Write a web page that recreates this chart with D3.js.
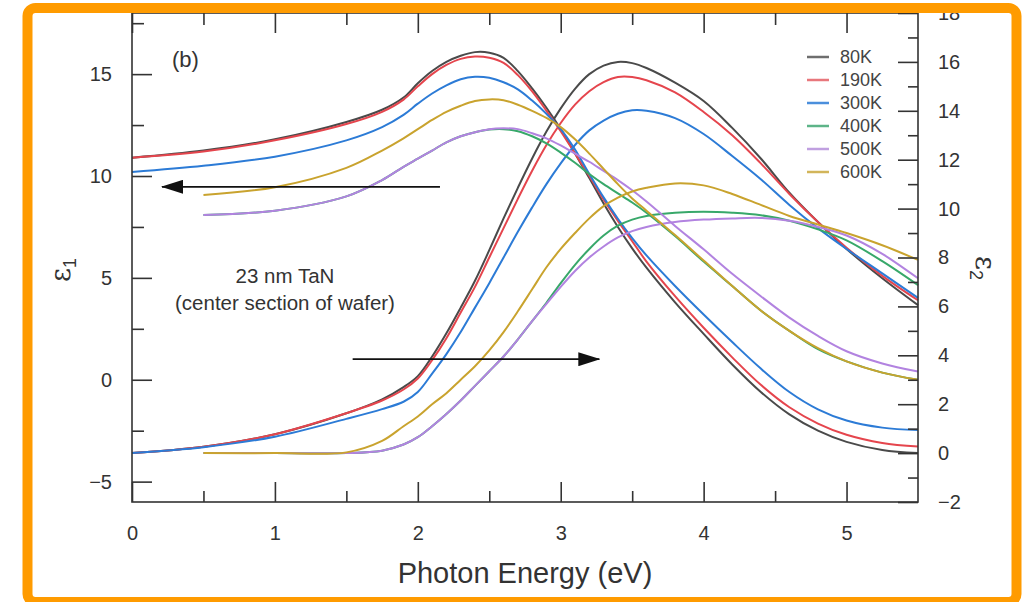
<!DOCTYPE html>
<html><head><meta charset="utf-8">
<script src="https://cdn.jsdelivr.net/npm/d3@7"></script>
<style>
html,body{margin:0;padding:0;background:#fff;}
svg{display:block;font-family:"Liberation Sans",Arial,Helvetica,sans-serif;}
</style></head>
<body>
<svg id="chart" width="1025" height="602"></svg>
<script>
// ---------- data ----------
const temps = ["80K","190K","300K","400K","500K","600K"];
const energyLow  = [0, 0.5, 1.0, 1.5, 1.75, 1.9, 2.0, 2.1, 2.2, 2.3, 2.4, 2.5, 2.6, 2.7, 2.8, 2.9, 3.0, 3.1, 3.2, 3.3, 3.4, 3.5, 3.6, 3.8, 4.0, 4.2, 4.4, 4.6, 4.8, 5.0, 5.25, 5.5];
const energyHigh = [0.5, 1.0, 1.5, 1.75, 1.9, 2.0, 2.1, 2.2, 2.3, 2.4, 2.5, 2.6, 2.7, 2.8, 2.9, 3.0, 3.1, 3.2, 3.3, 3.4, 3.5, 3.6, 3.8, 4.0, 4.2, 4.4, 4.6, 4.8, 5.0, 5.25, 5.5];

const eps1_80K  = [10.9, 11.25, 11.8, 12.65, 13.25, 13.85, 14.55, 15.15, 15.6, 15.9, 16.08, 16.05, 15.8, 15.15, 14.3, 13.35, 12.3, 11.1, 9.9, 8.65, 7.5, 6.45, 5.5, 3.8, 2.25, 0.75, -0.6, -1.7, -2.5, -3.05, -3.45, -3.6];
const eps1_190K = [10.9, 11.2, 11.75, 12.55, 13.15, 13.75, 14.4, 15.0, 15.45, 15.75, 15.86, 15.8, 15.55, 14.95, 14.15, 13.2, 12.2, 11.1, 10.0, 8.85, 7.8, 6.8, 5.8, 4.1, 2.55, 1.1, -0.25, -1.35, -2.15, -2.7, -3.1, -3.28];
const eps1_300K = [10.2, 10.5, 10.95, 11.75, 12.4, 13.0, 13.55, 14.05, 14.45, 14.75, 14.87, 14.82, 14.6, 14.25, 13.7, 13.05, 12.3, 11.3, 10.1, 8.95, 7.9, 6.95, 6.1, 4.6, 3.2, 1.85, 0.55, -0.6, -1.45, -2.0, -2.35, -2.47];
const eps1_400K = [8.09, 8.3, 9.0, 9.8, 10.45, 10.85, 11.25, 11.65, 11.95, 12.15, 12.28, 12.3, 12.2, 11.95, 11.6, 11.15, 10.65, 10.1, 9.6, 9.15, 8.7, 8.2, 7.05, 5.8, 4.6, 3.4, 2.4, 1.5, 0.9, 0.35, 0.0];
const eps1_500K = [8.09, 8.3, 9.0, 9.8, 10.45, 10.85, 11.25, 11.65, 11.95, 12.15, 12.3, 12.34, 12.3, 12.1, 11.85, 11.5, 11.1, 10.7, 10.25, 9.8, 9.3, 8.75, 7.55, 6.4, 5.2, 4.1, 3.05, 2.15, 1.4, 0.8, 0.4];
const eps1_600K = [9.07, 9.45, 10.4, 11.25, 11.85, 12.3, 12.75, 13.15, 13.45, 13.68, 13.76, 13.72, 13.5, 13.2, 12.85, 12.4, 11.8, 11.1, 10.35, 9.6, 8.9, 8.3, 7.1, 5.85, 4.6, 3.4, 2.4, 1.55, 0.9, 0.35, 0.0];

const eps2_80K  = [0.0, 0.26, 0.77, 1.63, 2.2, 2.7, 3.15, 3.95, 4.9, 5.95, 7.05, 8.3, 9.6, 10.85, 12.05, 13.15, 14.1, 14.9, 15.5, 15.85, 16.0, 15.95, 15.75, 15.15, 14.4, 13.3, 12.05, 10.65, 9.45, 8.35, 7.15, 6.05];
const eps2_190K = [0.0, 0.26, 0.77, 1.63, 2.15, 2.6, 3.05, 3.8, 4.7, 5.75, 6.8, 8.0, 9.2, 10.4, 11.55, 12.6, 13.5, 14.25, 14.8, 15.17, 15.38, 15.38, 15.25, 14.75, 13.95, 13.0, 11.85, 10.6, 9.45, 8.4, 7.25, 6.25];
const eps2_300K = [0.0, 0.24, 0.67, 1.4, 1.8, 2.1, 2.5, 3.25, 4.05, 4.95, 5.95, 6.95, 8.0, 9.05, 10.05, 11.0, 11.85, 12.6, 13.2, 13.6, 13.88, 14.02, 14.0, 13.7, 13.05, 12.15, 11.2, 10.15, 9.2, 8.35, 7.35, 6.35];
const eps2_400K = [0.0, 0.0, 0.0, 0.1, 0.35, 0.65, 1.1, 1.6, 2.15, 2.75, 3.35, 3.95, 4.65, 5.4, 6.15, 6.95, 7.7, 8.35, 8.9, 9.3, 9.55, 9.7, 9.83, 9.87, 9.83, 9.73, 9.5, 9.15, 8.7, 7.85, 6.87];
const eps2_500K = [0.0, 0.0, 0.0, 0.1, 0.35, 0.65, 1.1, 1.6, 2.15, 2.75, 3.35, 3.95, 4.65, 5.4, 6.1, 6.8, 7.45, 8.0, 8.45, 8.82, 9.08, 9.25, 9.45, 9.55, 9.6, 9.62, 9.5, 9.25, 8.9, 8.15, 7.15];
const eps2_600K = [0.0, 0.0, 0.03, 0.5, 1.1, 1.5, 2.0, 2.45, 3.0, 3.55, 4.2, 4.95, 5.8, 6.7, 7.6, 8.35, 9.0, 9.6, 10.1, 10.45, 10.7, 10.85, 11.03, 10.95, 10.6, 10.15, 9.7, 9.35, 9.0, 8.5, 7.9];

const xTicks = [0, 1, 2, 3, 4, 5];
const xMinor = [0.5, 1.5, 2.5, 3.5, 4.5];
const yLeftTicks = [-5, 0, 5, 10, 15];
const yLeftMinor = [-2.5, 2.5, 7.5, 12.5, 17.5];
const yRightTicks = [-2, 0, 2, 4, 6, 8, 10, 12, 14, 16, 18];
const yRightMinor = [-1, 1, 3, 5, 7, 9, 11, 13, 15, 17];

// arrows (data coordinates): left arrow on eps1 scale, right arrow on eps2 scale
const arrowLeft  = {from: [2.155, 9.47], to: [0.21, 9.47]};
const arrowRight = {from: [1.544, 3.84], to: [3.27, 3.84]};

// ---------- drawing ----------
const colors = {"80K":"#4a4a4a","190K":"#e5454d","300K":"#2c7bd6","400K":"#38a86a","500K":"#b283e0","600K":"#c9a32e"};
const legendColors = {"80K":"#6e6e6e","190K":"#e8777c","300K":"#4b8fdc","400K":"#5db488","500K":"#c0a0e0","600K":"#d2b55a"};

const svg = d3.select("#chart");
const L = 132, R = 918, T = 13, B = 502;
const x = d3.scaleLinear().domain([0, 5.5]).range([L, R]);
const yL = d3.scaleLinear().domain([-6, 18]).range([B, T]);
const yR = d3.scaleLinear().domain([-2, 18]).range([B, T]);

svg.append("rect").attr("x",0).attr("y",0).attr("width",1025).attr("height",602).attr("fill","#fff");

const eps1 = {"80K":eps1_80K,"190K":eps1_190K,"300K":eps1_300K,"400K":eps1_400K,"500K":eps1_500K,"600K":eps1_600K};
const eps2 = {"80K":eps2_80K,"190K":eps2_190K,"300K":eps2_300K,"400K":eps2_400K,"500K":eps2_500K,"600K":eps2_600K};
const energyOf = t => (t==="80K"||t==="190K"||t==="300K") ? energyLow : energyHigh;

const lineL = d3.line().x(d=>x(d[0])).y(d=>yL(d[1])).curve(d3.curveCatmullRom.alpha(0.5));
const lineR = d3.line().x(d=>x(d[0])).y(d=>yR(d[1])).curve(d3.curveCatmullRom.alpha(0.5));

const g = svg.append("g");
temps.forEach(t => {
  const E = energyOf(t);
  g.append("path").attr("d", lineL(E.map((e,i)=>[e, eps1[t][i]])))
    .attr("fill","none").attr("stroke",colors[t]).attr("stroke-width",2);
  g.append("path").attr("d", lineR(E.map((e,i)=>[e, eps2[t][i]])))
    .attr("fill","none").attr("stroke",colors[t]).attr("stroke-width",2);
});

// axes
const axisColor = "#333";
const fs = 20;
function styleAxis(sel){
  sel.selectAll(".domain").remove();
  sel.selectAll("line").attr("stroke",axisColor).attr("stroke-width",1.6);
  sel.selectAll("text").attr("fill","#333").attr("font-size",fs).attr("font-family","'Liberation Sans',Arial,sans-serif");
}
const fmt = d => (d<0 ? "\u2212"+Math.abs(d) : String(d));

svg.append("g").attr("transform",`translate(0,${B})`)
  .call(d3.axisBottom(x).tickValues(xTicks).tickSize(-20).tickPadding(24).tickFormat(fmt)).call(styleAxis);
svg.append("g").attr("transform",`translate(0,${B})`)
  .call(d3.axisBottom(x).tickValues(xMinor).tickSize(-11).tickFormat("")).call(styleAxis);
svg.append("g").attr("transform",`translate(0,${T})`)
  .call(d3.axisTop(x).tickValues(xTicks).tickSize(-20).tickFormat("")).call(styleAxis);
svg.append("g").attr("transform",`translate(0,${T})`)
  .call(d3.axisTop(x).tickValues(xMinor).tickSize(-12).tickFormat("")).call(styleAxis);

svg.append("g").attr("transform",`translate(${L},0)`)
  .call(d3.axisLeft(yL).tickValues(yLeftTicks).tickSize(-20).tickPadding(20).tickFormat(fmt)).call(styleAxis);
svg.append("g").attr("transform",`translate(${L},0)`)
  .call(d3.axisLeft(yL).tickValues(yLeftMinor).tickSize(-12).tickFormat("")).call(styleAxis);

svg.append("g").attr("transform",`translate(${R},0)`)
  .call(d3.axisRight(yR).tickValues(yRightTicks).tickSize(-20).tickPadding(20).tickFormat(fmt)).call(styleAxis);
svg.append("g").attr("transform",`translate(${R},0)`)
  .call(d3.axisRight(yR).tickValues(yRightMinor).tickSize(-10).tickFormat("")).call(styleAxis);

// frame box
svg.append("rect").attr("x",L).attr("y",T).attr("width",R-L).attr("height",B-T)
  .attr("fill","none").attr("stroke",axisColor).attr("stroke-width",1.6);

// arrows
const defs = svg.append("defs");
defs.append("marker").attr("id","ah").attr("viewBox","0 0 22 14").attr("refX",21).attr("refY",7)
  .attr("markerWidth",22).attr("markerHeight",14).attr("markerUnits","userSpaceOnUse").attr("orient","auto")
  .append("path").attr("d","M0,0 L22,7 L0,14 Z").attr("fill","#111");
svg.append("line").attr("x1",x(arrowLeft.from[0])).attr("y1",yL(arrowLeft.from[1]))
  .attr("x2",x(arrowLeft.to[0])).attr("y2",yL(arrowLeft.to[1]))
  .attr("stroke","#111").attr("stroke-width",1.8).attr("marker-end","url(#ah)");
svg.append("line").attr("x1",x(arrowRight.from[0])).attr("y1",yR(arrowRight.from[1]))
  .attr("x2",x(arrowRight.to[0])).attr("y2",yR(arrowRight.to[1]))
  .attr("stroke","#111").attr("stroke-width",1.8).attr("marker-end","url(#ah)");

// labels
svg.append("text").attr("x",172).attr("y",67).attr("font-size",22).attr("fill","#333").text("(b)");
svg.append("text").attr("x",285).attr("y",283).attr("text-anchor","middle").attr("font-size",20.5).attr("fill","#333").text("23 nm TaN");
svg.append("text").attr("x",285).attr("y",310).attr("text-anchor","middle").attr("font-size",20.5).attr("fill","#333").text("(center section of wafer)");

svg.append("text").attr("x",(L+R)/2).attr("y",583).attr("text-anchor","middle").attr("font-size",29).attr("fill","#333").text("Photon Energy (eV)");

const e1 = svg.append("text").attr("transform","translate(70,270) rotate(-90)").attr("text-anchor","middle")
  .attr("font-size",27).attr("fill","#333").attr("font-family","'DejaVu Serif',serif");
e1.append("tspan").text("\u03B5");
e1.append("tspan").attr("font-size",18).attr("dy",6).attr("font-family","'Liberation Sans',Arial,sans-serif").text("1");

const e2 = svg.append("text").attr("transform","translate(976,268) rotate(90)").attr("text-anchor","middle")
  .attr("font-size",27).attr("fill","#333").attr("font-family","'DejaVu Serif',serif");
e2.append("tspan").text("\u03B5");
e2.append("tspan").attr("font-size",18).attr("dy",6).attr("font-family","'Liberation Sans',Arial,sans-serif").text("2");

// legend
const leg = svg.append("g");
temps.forEach((t,i) => {
  const yy = 57 + i*23;
  leg.append("line").attr("x1",807).attr("x2",829).attr("y1",yy).attr("y2",yy)
    .attr("stroke",legendColors[t]).attr("stroke-width",2.5);
  leg.append("text").attr("x",840).attr("y",yy).attr("dy","0.36em").attr("font-size",18).attr("fill","#444").text(t);
});

// orange frame
svg.append("rect").attr("x",27.5).attr("y",8).attr("width",989).attr("height",594).attr("rx",8)
  .attr("fill","none").attr("stroke","#ff9b00").attr("stroke-width",10);
</script>
</body></html>
